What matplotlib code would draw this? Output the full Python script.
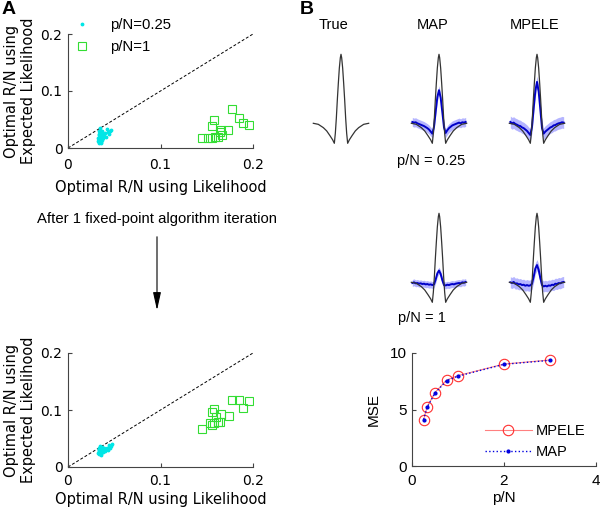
import numpy as np
import matplotlib
matplotlib.use('Agg')
import matplotlib.pyplot as plt
from matplotlib.patches import FancyArrowPatch

# ---- data ----
# panel A, before the iteration
cyan_top_x = [0.032, 0.033, 0.034, 0.034, 0.035, 0.035, 0.036, 0.036, 0.037, 0.037,
              0.038, 0.033, 0.034, 0.035, 0.036, 0.032, 0.034, 0.036, 0.038, 0.039,
              0.040, 0.041, 0.043, 0.045, 0.047, 0.044, 0.042, 0.035, 0.037, 0.033]
cyan_top_y = [0.012, 0.015, 0.010, 0.018, 0.013, 0.020, 0.016, 0.022, 0.014, 0.019,
              0.017, 0.022, 0.025, 0.027, 0.011, 0.018, 0.030, 0.009, 0.024, 0.021,
              0.026, 0.019, 0.028, 0.030, 0.032, 0.024, 0.033, 0.035, 0.029, 0.009]
green_top_x = [0.1776, 0.185, 0.189, 0.1957, 0.158, 0.1553, 0.1654, 0.1733, 0.1445,
               0.1517, 0.1553, 0.159, 0.1625, 0.166, 0.1643]
green_top_y = [0.0684, 0.053, 0.043, 0.040, 0.050, 0.0386, 0.031, 0.0316, 0.017,
               0.018, 0.018, 0.0188, 0.0193, 0.0228, 0.0275]

# panel A, after 1 fixed-point iteration
cyan_bot_x = [0.032, 0.033, 0.034, 0.034, 0.035, 0.035, 0.036, 0.036, 0.037, 0.038,
              0.033, 0.034, 0.036, 0.037, 0.039, 0.040, 0.041, 0.043, 0.045, 0.047,
              0.035, 0.038, 0.042, 0.044, 0.036, 0.048]
cyan_bot_y = [0.025, 0.028, 0.022, 0.030, 0.026, 0.032, 0.024, 0.029, 0.027, 0.030,
              0.031, 0.034, 0.021, 0.035, 0.033, 0.028, 0.031, 0.030, 0.034, 0.037,
              0.036, 0.026, 0.034, 0.039, 0.027, 0.041]
green_bot_x = [0.1776, 0.1845, 0.1957, 0.189, 0.1578, 0.156, 0.1654, 0.174, 0.1597,
               0.1535, 0.158, 0.1625, 0.1643, 0.156, 0.1452]
green_bot_y = [0.1175, 0.1175, 0.1158, 0.103, 0.101, 0.097, 0.0924, 0.0895, 0.088,
               0.0778, 0.0778, 0.0784, 0.0795, 0.0737, 0.066]

# panel B, filters (normalised amplitude vs. sample position)
true_t = [-83, -68, -53, -43, -33, -25, -20, -17, -14, -11, -8, -5, -2, 0,
          2, 5, 8, 11, 14, 17, 20, 25, 33, 43, 53, 68, 83]
true_filter = [0, -0.015, -0.063, -0.11, -0.18, -0.24, -0.29, -0.145, 0.073, 0.34,
               0.58, 0.80, 0.95, 1.0, 0.95, 0.80, 0.58, 0.34, 0.073, -0.145, -0.29,
               -0.24, -0.18, -0.11, -0.063, -0.015, 0]

est_t = list(range(-80, 81, 5))
map_025 = [0.02, 0.01, 0.015, 0.0, -0.01, -0.02, -0.03, -0.04, -0.055, -0.07, -0.09,
           -0.12, -0.15, -0.05, 0.17, 0.38, 0.48, 0.37, 0.16, -0.06, -0.14, -0.10,
           -0.07, -0.05, -0.03, -0.02, -0.01, 0.0, 0.01, 0.0, 0.015, 0.01, 0.02]
mpele_025 = [0.02, 0.0, 0.01, -0.01, -0.02, -0.035, -0.04, -0.06, -0.07, -0.09, -0.11,
             -0.14, -0.17, -0.05, 0.22, 0.47, 0.60, 0.46, 0.20, -0.07, -0.15, -0.12,
             -0.10, -0.08, -0.06, -0.05, -0.03, -0.025, -0.01, 0.0, 0.005, 0.015, 0.01]
map_1 = [-0.01, 0.0, -0.015, -0.01, -0.02, -0.015, -0.025, -0.02, -0.03, -0.025, -0.035,
         -0.03, -0.04, -0.03, 0.04, 0.13, 0.17, 0.12, 0.03, -0.04, -0.045, -0.035,
         -0.04, -0.03, -0.025, -0.03, -0.02, -0.015, -0.01, -0.015, 0.0, -0.005, 0.005]
mpele_1 = [0.0, -0.01, 0.005, -0.02, -0.015, -0.03, -0.025, -0.04, -0.035, -0.05, -0.04,
           -0.05, -0.045, -0.02, 0.08, 0.20, 0.25, 0.18, 0.06, -0.04, -0.06, -0.05,
           -0.06, -0.045, -0.05, -0.035, -0.04, -0.02, -0.025, -0.01, -0.015, 0.0, 0.005]
spread_map_025 = 0.065
spread_mpele_025 = 0.085
spread_map_1 = 0.05
spread_mpele_1 = 0.08

# panel B, MSE curve
pn = [0.25, 0.33, 0.5, 0.75, 1, 2, 3]
mse_mpele = [4.07, 5.25, 6.5, 7.6, 8.0, 9.02, 9.38]
mse_map = [4.1, 5.2, 6.45, 7.55, 7.95, 9.0, 9.35]

W, H = 600, 509
fig = plt.figure(figsize=(6, 5.09), dpi=100)
SANS = 'Liberation Sans'
AXF = 'DejaVu Sans'
SPINE = '#444444'


def box(l, t, r, b):
    # pixel box (top-left origin) -> figure fraction rect
    return [l / W, 1 - b / H, (r - l) / W, (b - t) / H]


def style_axes(ax, family, size):
    for s in ['top', 'right']:
        ax.spines[s].set_visible(False)
    for s in ['left', 'bottom']:
        ax.spines[s].set_color(SPINE)
        ax.spines[s].set_linewidth(0.8)
    ax.tick_params(direction='in', length=3, width=0.8, color=SPINE,
                   labelsize=size, pad=4)
    for lab in ax.get_xticklabels() + ax.get_yticklabels():
        lab.set_family(family)


def rn_axes(rect, cx, cy, gx, gy, xpad, xlab_y):
    ax = fig.add_axes(rect)
    ax.plot([0, 0.2], [0, 0.2], color='k', lw=0.7, dashes=(3, 2), clip_on=False)
    ax.plot(cx, cy, '.', color='#00e6e6', ms=3.5, ls='none', label='p/N=0.25')
    ax.plot(gx, gy, 's', mfc='none', mec='#33dd33', ms=6, mew=0.8, ls='none',
            label='p/N=1')
    ax.set_xlim(0, 0.2)
    ax.set_ylim(0, 0.2)
    ax.set_xticks([0, 0.1, 0.2])
    ax.set_xticklabels(['0', '0.1', '0.2'])
    ax.set_yticks([0, 0.1, 0.2])
    ax.set_yticklabels(['0', '0.1', '0.2'])
    style_axes(ax, AXF, 10)
    ax.tick_params(axis='x', pad=xpad)
    ax.set_xlabel('Optimal R/N using Likelihood', family=AXF, fontsize=10.5)
    ax.xaxis.set_label_coords(0.5, xlab_y)
    ax.set_ylabel('Optimal R/N using\nExpected Likelihood', family=AXF,
                  fontsize=10.5, linespacing=1.15)
    ax.yaxis.set_label_coords(-0.175, 0.5)
    return ax


ax_top = rn_axes(box(68, 34, 253, 148), cyan_top_x, cyan_top_y,
                 green_top_x, green_top_y, 7, -0.28)
ax_bot = rn_axes(box(68, 353, 253, 467), cyan_bot_x, cyan_bot_y,
                 green_bot_x, green_bot_y, 5, -0.215)

leg = ax_top.legend(loc='upper left', bbox_to_anchor=(71 / W, 1 - 18 / H),
                    bbox_transform=fig.transFigure, frameon=False,
                    borderpad=0, borderaxespad=0, handlelength=1.5,
                    handletextpad=1.1, labelspacing=0.55,
                    prop={'family': SANS, 'size': 10.7})

fig.text(157 / W, 1 - 219 / H, 'After 1 fixed-point algorithm iteration',
         family=SANS, fontsize=10.7, ha='center', va='center')
arrow = FancyArrowPatch((157 / W, 1 - 234 / H), (157 / W, 1 - 313 / H),
                        transform=fig.transFigure,
                        arrowstyle='-|>,head_length=0.9,head_width=0.2',
                        mutation_scale=12, color='k', lw=0.8)
fig.add_artist(arrow)

fig.text(2 / W, 1 - 9 / H, 'A', family=SANS, fontsize=14, fontweight='bold',
         va='center', ha='left')
fig.text(300 / W, 1 - 9 / H, 'B', family=SANS, fontsize=14, fontweight='bold',
         va='center', ha='left')


# ---- filter panels ----
def filter_axes(cx, top, est=None, spread=0.0, show_true=True):
    ax = fig.add_axes(box(cx - 30, top, cx + 30, top + 103.5))
    ax.axis('off')
    ax.set_xlim(-90, 90)
    ax.set_ylim(-0.4, 1.1)
    if est is not None:
        e = np.array(est)
        ax.fill_between(est_t, e - spread, e + spread, color='#7878ff',
                        alpha=0.55, lw=0)
        ax.plot(est_t, est, color='#0000c8', lw=1.4)
    if show_true:
        ax.plot(true_t, true_filter, color='#333333', lw=0.9, zorder=3)
    return ax


row1, row2 = 47.4, 206.4
filter_axes(341, row1)
filter_axes(439, row1, map_025, spread_map_025)
filter_axes(537, row1, mpele_025, spread_mpele_025)
filter_axes(439, row2, map_1, spread_map_1)
filter_axes(537, row2, mpele_1, spread_mpele_1)

for x, s in [(333, 'True'), (433, 'MAP'), (535, 'MPELE')]:
    fig.text(x / W, 1 - 25 / H, s, family=SANS, fontsize=10.5,
             ha='center', va='center')
fig.text(397 / W, 1 - 161 / H, 'p/N = 0.25', family=SANS, fontsize=10.5,
         ha='left', va='center')
fig.text(398 / W, 1 - 318 / H, 'p/N = 1', family=SANS, fontsize=10.5,
         ha='left', va='center')

# ---- MSE panel ----
ax_mse = fig.add_axes(box(412, 353, 596, 466))
ax_mse.plot(pn, mse_mpele, '-o', color='#ff8080', mec='#ff3030', mfc='none',
            ms=7.5, lw=0.8, mew=0.8, label='MPELE')
ax_mse.plot(pn, mse_map, ':.', color='#0000e0', ms=4, lw=1.0, label='MAP')
ax_mse.set_xlim(0, 4)
ax_mse.set_ylim(0, 10)
ax_mse.set_xticks([0, 2, 4])
ax_mse.set_yticks([0, 5, 10])
style_axes(ax_mse, SANS, 11)
ax_mse.tick_params(axis='x', pad=6)
ax_mse.set_xlabel('p/N', family=SANS, fontsize=11, labelpad=2)
ax_mse.set_ylabel('MSE', family=SANS, fontsize=11, labelpad=6)
ax_mse.legend(loc='upper left', bbox_to_anchor=(485 / W, 1 - 424 / H),
              bbox_transform=fig.transFigure, frameon=False, borderpad=0,
              borderaxespad=0, handlelength=3.2, handletextpad=0.3,
              labelspacing=0.5, prop={'family': SANS, 'size': 10.5})

fig.savefig('out.png', dpi=100)
